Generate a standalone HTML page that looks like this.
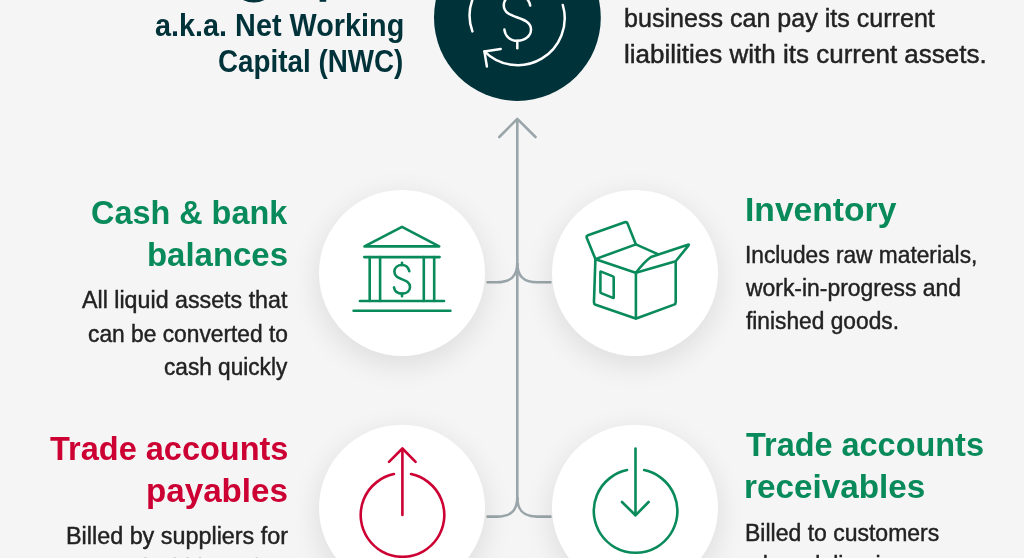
<!DOCTYPE html>
<html><head><meta charset="utf-8"><title>Working Capital</title>
<style>
html,body{margin:0;padding:0}
body{width:1024px;height:558px;overflow:hidden;background:#f5f5f5;position:relative;font-family:"Liberation Sans",sans-serif}
.t{position:absolute;white-space:nowrap;line-height:1;transform-origin:0 0;font-family:"Liberation Sans",sans-serif}
.b{-webkit-text-stroke:0.45px #222}
svg{position:absolute;left:0;top:0}
</style></head><body>
<svg width="1024" height="558" viewBox="0 0 1024 558">
<defs><filter id="sh" x="-40%" y="-40%" width="180%" height="180%"><feGaussianBlur stdDeviation="14"/></filter></defs>
<g fill="none" stroke="#9aa5a9" stroke-width="2.6" stroke-linecap="round" stroke-linejoin="round">
<path d="M517.3 500V120"/>
<path d="M499.3 137L517.3 118.9L535.5 137"/>
</g>
<g fill="none" stroke="#9aa5a9" stroke-width="2.6" stroke-linecap="butt" stroke-linejoin="round">
<path d="M486.5 282.3H497C510 282.3 517.3 277 517.3 263"/>
<path d="M551.5 282.3H537.2C524.2 282.3 517.3 277 517.3 263"/>
<path d="M486.5 516.6H497C510 516.6 517.3 511.3 517.3 497.3"/>
<path d="M551.5 516.6H537.2C524.2 516.6 517.3 511.3 517.3 497.3"/>
</g>
<rect x="144.5" y="557" width="2" height="1" fill="#222" opacity="0.18"/>
<rect x="173.8" y="557" width="2" height="1" fill="#222" opacity="0.18"/>
<rect x="186.6" y="557" width="2" height="1" fill="#222" opacity="0.18"/>
<rect x="199" y="557" width="2" height="1" fill="#222" opacity="0.18"/>
<rect x="255.7" y="557" width="2" height="1" fill="#222" opacity="0.18"/>
<path d="M243 0Q253.5 5.2 264.5 0Z" fill="#00323a"/>
<rect x="319.6" y="0" width="6.6" height="1.8" fill="#00323a"/>
<circle cx="517.4" cy="17.5" r="83.4" fill="#00323a"/>
<g fill="none" stroke="#fff" stroke-width="2.5" stroke-linecap="round" stroke-linejoin="round">
<path d="M472.4 31.4A47 47 0 0 1 473 -2"/>
<path d="M562.8 5A47 47 0 0 1 484.4 51.4"/>
<path d="M500.7 48.9L484.4 51.4L486.9 66.5"/>
<path d="M517.3 40.8V48.3"/>
<path d="M530.2 5.6C529 -1 523.5 -5.8 517 -5.8C509 -5.8 503.8 -1 503.8 5.5C503.8 20 531 15 531 29.5C531 36 525 40.8 517.5 40.8C510 40.8 505 36 504.4 29.5"/>
</g>
<circle cx="402" cy="281" r="86" fill="#000" opacity="0.085" filter="url(#sh)"/>
<circle cx="635" cy="281" r="86" fill="#000" opacity="0.085" filter="url(#sh)"/>
<circle cx="402" cy="515.7" r="86" fill="#000" opacity="0.085" filter="url(#sh)"/>
<circle cx="635" cy="515.7" r="86" fill="#000" opacity="0.085" filter="url(#sh)"/>
<circle cx="402" cy="273" r="83" fill="#fff"/>
<circle cx="635" cy="273" r="83" fill="#fff"/>
<circle cx="402" cy="507.7" r="83" fill="#fff"/>
<circle cx="635" cy="507.7" r="83" fill="#fff"/>
<g fill="none" stroke="#088a5b" stroke-width="2.6" stroke-linecap="round" stroke-linejoin="round">
<path d="M364.5 246.4L402 226.9L439.2 246.4Z"/>
<path d="M364.3 257.1H439.6"/>
<path d="M369.7 257.1V301M380.1 257.1V301M423.8 257.1V301M434.2 257.1V301"/>
<path d="M359.9 301H444"/>
<path d="M353.6 310.8H450.4"/>
<path d="M402 262.7V265M402 293.6V296.2"/>
<path d="M409.3 271.2C408.3 267.2 405.6 265 402 265C397.4 265 394.4 267.8 394.4 271.8C394.4 281 410 277.8 410 287C410 291 406.8 293.6 402.2 293.6C397.8 293.6 394.8 291.4 394 287.4"/>
</g>
<g fill="none" stroke="#088a5b" stroke-width="2.6" stroke-linecap="round" stroke-linejoin="round">
<path d="M595.40 259.10L586.83 238.04Q586.00 236.00 588.07 235.27L624.73 222.33Q626.80 221.60 627.62 223.64L635.90 244.40"/>
<path d="M595.4 259.1L635.9 244.4L657.8 254.1"/>
<path d="M597.11 259.68L634.19 272.22Q635.90 272.80 637.63 272.30L673.97 261.70Q675.70 261.20 675.70 263.00L675.70 302.20Q675.70 304.00 674.01 304.62L637.59 317.98Q635.90 318.60 634.20 318.02L595.60 304.78Q593.90 304.20 593.96 302.40L595.34 260.90Q595.40 259.10 597.11 259.68Z"/>
<path d="M635.9 272.8V318.6"/>
<path d="M635.9 272.8Q644 262 651.0 257.0L687.9 244.7Q689.4 244.2 688.4 245.6L675.7 261.2"/>
<path d="M601.14 271.60L612.96 276.40Q613.70 276.70 613.70 277.50L613.70 297.40Q613.70 298.20 612.96 297.90L601.14 293.10Q600.40 292.80 600.40 292.00L600.40 272.10Q600.40 271.30 601.14 271.60Z"/>
</g>
<g fill="none" stroke="#cc0033" stroke-width="2.6" stroke-linecap="round" stroke-linejoin="round">
<path d="M393.9 474.1A41.8 41.8 0 1 0 411.1 474.1"/>
<path d="M402.4 515V449"/>
<path d="M389 461.8L402.4 448.5L415.6 461.8"/>
</g>
<g fill="none" stroke="#088a5b" stroke-width="2.6" stroke-linecap="round" stroke-linejoin="round">
<path d="M627 470.1A41.8 41.8 0 1 0 644.2 470.1"/>
<path d="M635.5 515V448.5"/>
<path d="M622 502L635.5 515.3L648.6 502"/>
</g>
</svg>
<div class="t" style="left:154.96px;top:10.00px;font-size:30.5px;font-weight:700;color:#00323a;transform:scaleX(0.9448)">a.k.a. Net Working</div>
<div class="t" style="left:218.39px;top:46.00px;font-size:30.5px;font-weight:700;color:#00323a;transform:scaleX(0.9114)">Capital (NWC)</div>
<div class="t b" style="left:623.61px;top:6.00px;font-size:25.2px;font-weight:400;color:#222222;transform:scaleX(0.9955)">business can pay its current</div>
<div class="t b" style="left:623.54px;top:42.00px;font-size:25.2px;font-weight:400;color:#222222;transform:scaleX(1.0323)">liabilities with its current assets.</div>
<div class="t" style="left:91.43px;top:196.00px;font-size:33.4px;font-weight:700;color:#088a5b;transform:scaleX(0.9701)">Cash &amp; bank</div>
<div class="t" style="left:147.33px;top:238.00px;font-size:33.4px;font-weight:700;color:#088a5b;transform:scaleX(0.9864)">balances</div>
<div class="t b" style="left:81.60px;top:288.00px;font-size:24.8px;font-weight:400;color:#222222;transform:scaleX(0.9374)">All liquid assets that</div>
<div class="t b" style="left:87.68px;top:322.00px;font-size:24.8px;font-weight:400;color:#222222;transform:scaleX(0.9181)">can be converted to</div>
<div class="t b" style="left:163.99px;top:355.00px;font-size:24.8px;font-weight:400;color:#222222;transform:scaleX(0.9127)">cash quickly</div>
<div class="t" style="left:745.09px;top:193.00px;font-size:33.4px;font-weight:700;color:#088a5b;transform:scaleX(1.0074)">Inventory</div>
<div class="t b" style="left:744.77px;top:243.00px;font-size:24.8px;font-weight:400;color:#222222;transform:scaleX(0.9161)">Includes raw materials,</div>
<div class="t b" style="left:745.60px;top:276.00px;font-size:24.8px;font-weight:400;color:#222222;transform:scaleX(0.9234)">work-in-progress and</div>
<div class="t b" style="left:745.60px;top:309.00px;font-size:24.8px;font-weight:400;color:#222222;transform:scaleX(0.9170)">finished goods.</div>
<div class="t" style="left:49.50px;top:432.00px;font-size:33.4px;font-weight:700;color:#cc0033;transform:scaleX(0.9734)">Trade accounts</div>
<div class="t" style="left:146.01px;top:474.00px;font-size:33.4px;font-weight:700;color:#cc0033;transform:scaleX(0.9929)">payables</div>
<div class="t b" style="left:65.62px;top:524.00px;font-size:24.8px;font-weight:400;color:#222222;transform:scaleX(0.9421)">Billed by suppliers for</div>
<div class="t" style="left:745.50px;top:428.00px;font-size:33.4px;font-weight:700;color:#088a5b;transform:scaleX(0.9713)">Trade accounts</div>
<div class="t" style="left:743.51px;top:470.00px;font-size:33.4px;font-weight:700;color:#088a5b;transform:scaleX(0.9958)">receivables</div>
<div class="t b" style="left:744.95px;top:521.00px;font-size:24.8px;font-weight:400;color:#222222;transform:scaleX(0.9273)">Billed to customers</div>
<div class="t b" style="left:746.00px;top:553.00px;font-size:24.8px;font-weight:400;color:#222222;transform:scaleX(0.9298)">when delivering</div>
</body></html>
